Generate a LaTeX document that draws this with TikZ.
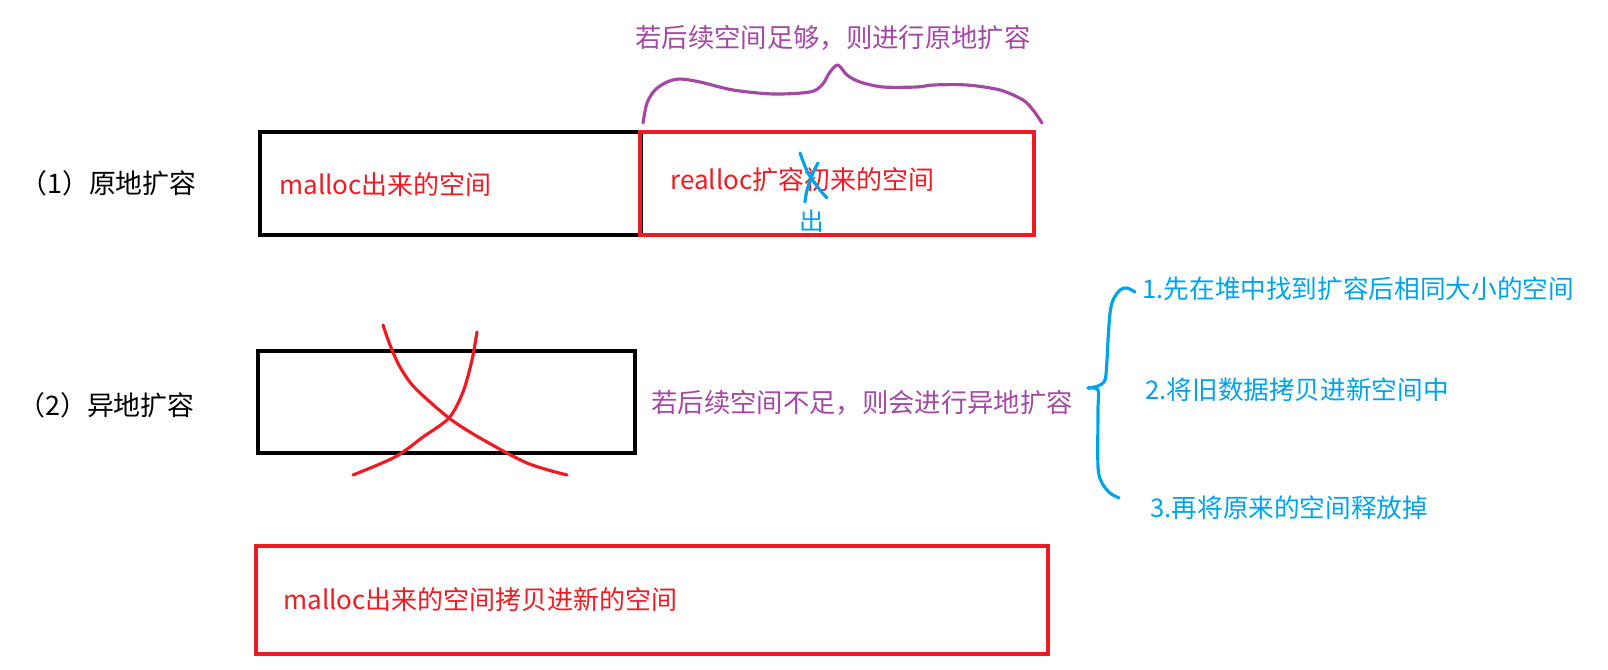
\documentclass[tikz,border=0pt]{standalone}
\usepackage{fontspec}
\usepackage{xcolor}
\usepackage{tikz}
\usetikzlibrary{positioning}
\newfontfamily\cjk{Noto Sans CJK SC}
\definecolor{PaintRed}{RGB}{237,28,36}
\definecolor{PaintPurple}{RGB}{163,73,164}
\definecolor{PaintBlue}{RGB}{0,162,232}
\tikzset{
  memblk/.style={draw, line width=2.3pt, inner sep=0pt, minimum height=2.06cm},
  oldblk/.style={memblk, draw=black},
  newblk/.style={memblk, draw=PaintRed},
  lbl/.style={anchor=west, inner sep=0pt, font=\cjk\fontsize{15.3}{17}\selectfont},
  redtxt/.style={anchor=west, inner sep=0pt, text=PaintRed, font=\cjk\fontsize{14.8}{17}\selectfont},
  notetxt/.style={inner sep=0pt, text=PaintPurple, font=\cjk\fontsize{15}{17}\selectfont},
  steptxt/.style={anchor=west, inner sep=0pt, text=PaintBlue, font=\cjk\fontsize{14.6}{17}\selectfont},
  pen/.style={line width=1.8pt, line cap=round, line join=round},
}
\begin{document}
\begin{tikzpicture}[x=0.02cm, y=-0.02cm]
  \useasboundingbox (0,0) rectangle (1608,669);
  % (1) in place
  \node[lbl] (inplace) at (20,183) {（1）原地扩容};
  \node[oldblk, minimum width=7.62cm] (oldblock) at (450.5,183.5) {};
  \node[newblk, minimum width=7.88cm] (grownblock) at (837,183.5) {};
  \node[redtxt] (oldtxt) at (279,185) {malloc出来的空间};
  \node[redtxt] (growntxt) at (670,180) {realloc扩容初来的空间};
  \node[inner sep=0pt, text=PaintBlue, font=\cjk\fontsize{14}{16}\selectfont] (fixchar) at (812,221) {出};
  \draw[pen, PaintBlue] plot[smooth] coordinates {(800,153) (808,173) (820,190) (827,198)};
  \draw[pen, PaintBlue] plot[smooth] coordinates {(818,163) (813,173) (807,190) (805,202)};
  \draw[pen, PaintPurple] plot[smooth, tension=0.5] coordinates {(643,123) (647,103) (655,90) (667,82)
    (680,79) (700,82) (733,90) (773,94) (810,92) (822,85) (830,72) (838,65) (847,75) (860,82)
    (883,87) (917,87) (933,85) (967,85) (1000,90) (1023,100) (1033,110) (1042,123)};
  \node[notetxt] (enough) at (833,38) {若后续空间足够，则进行原地扩容};
  % (2) moved
  \node[lbl] (moved) at (18,405) {（2）异地扩容};
  \node[oldblk, minimum width=7.54cm, minimum height=2.04cm] (freedblock) at (446.5,402) {};
  \draw[pen, PaintRed] plot[smooth] coordinates {(383,325) (390,345) (400,367) (415,388)
    (449,418) (480,438) (527,463) (567,475)};
  \draw[pen, PaintRed] plot[smooth] coordinates {(477,332) (472,360) (463,392)
    (449,418) (423,437) (395,457) (353,475)};
  \node[notetxt, anchor=west] (notenough) at (651,403) {若后续空间不足，则会进行异地扩容};
  \draw[pen, PaintBlue] plot[smooth, tension=0.5] coordinates {(1135,292) (1127,288) (1120,290) (1113,300)
    (1110,313) (1108,340) (1107,360) (1105,380) (1098,386) (1088,388)};
  \draw[pen, PaintBlue] plot[smooth, tension=0.5] coordinates {(1088,388) (1098,390) (1098,410)
    (1098,467) (1102,483) (1110,493) (1119,498)};
  \node[steptxt] (stepA) at (1142,289) {1.先在堆中找到扩容后相同大小的空间};
  \node[steptxt] (stepB) at (1145,390) {2.将旧数据拷贝进新空间中};
  \node[steptxt] (stepC) at (1150,508) {3.再将原来的空间释放掉};
  \node[newblk, minimum width=15.84cm, minimum height=2.16cm] (copyblock) at (652,600) {};
  \node[redtxt] (copytxt) at (283,600) {malloc出来的空间拷贝进新的空间};
\end{tikzpicture}
\end{document}
